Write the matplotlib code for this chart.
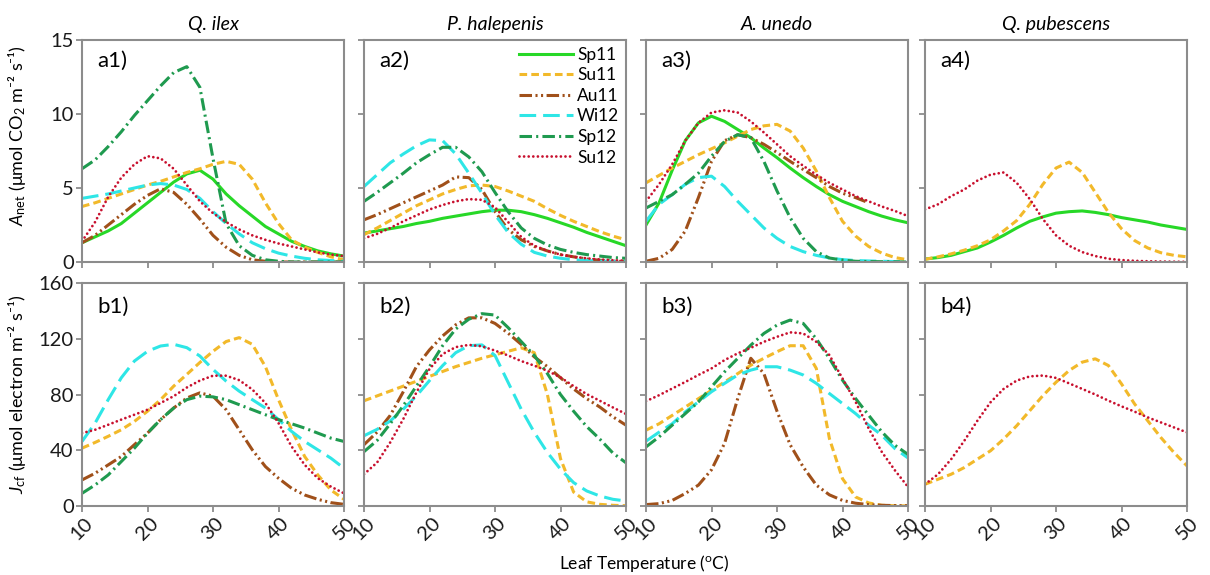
import numpy as np
import matplotlib
matplotlib.use("Agg")
import matplotlib.pyplot as plt

# -----------------------
# Data: modelled response curves vs leaf temperature
# -----------------------
nan = np.nan
temps = [10, 12, 14, 16, 18, 20, 22, 24, 26, 28, 30, 32, 34, 36, 38, 40, 42, 44, 46, 48, 50]

species = ["Q. ilex", "P. halepenis", "A. unedo", "Q. pubescens"]
campaigns = ["Sp11", "Su11", "Au11", "Wi12", "Sp12", "Su12"]

# Net assimilation (umol CO2 m-2 s-1), one dict per species
anet_qi = {
    "Sp11": [1.3, 1.7, 2.1, 2.6, 3.3, 4.0, 4.7, 5.4, 5.95, 6.2, 5.6, 4.6, 3.8, 3.1, 2.4, 1.9, 1.4, 1.05, 0.75, 0.55, 0.4],
    "Su11": [3.75, 4.0, 4.3, 4.6, 4.9, 5.2, 5.45, 5.75, 6.05, 6.3, 6.6, 6.8, 6.6, 5.6, 4.0, 2.6, 1.5, 1.0, 0.65, 0.35, 0.15],
    "Au11": [1.3, 1.8, 2.5, 3.2, 3.9, 4.5, 4.95, 4.7, 3.9, 2.9, 1.8, 1.0, 0.45, 0.15, 0.05, 0, 0, 0, 0, 0, 0],
    "Wi12": [4.3, 4.45, 4.6, 4.8, 5.0, 5.2, 5.3, 5.2, 4.9, 4.3, 3.4, 2.6, 1.9, 1.3, 0.9, 0.6, 0.4, 0.25, 0.15, 0.1, 0.05],
    "Sp12": [6.3, 6.9, 7.8, 8.8, 9.9, 10.9, 11.9, 12.8, 13.2, 11.8, 7.0, 2.6, 1.1, 0.45, 0.15, 0.05, 0, 0, 0, 0, 0],
    "Su12": [1.4, 2.7, 4.4, 5.7, 6.6, 7.15, 7.0, 6.3, 5.2, 4.1, 3.3, 2.7, 2.2, 1.8, 1.5, 1.25, 1.05, 0.85, 0.65, 0.5, 0.4],
}
anet_ph = {
    "Sp11": [1.95, 2.1, 2.25, 2.4, 2.6, 2.75, 2.95, 3.1, 3.25, 3.4, 3.5, 3.5, 3.4, 3.2, 2.95, 2.65, 2.35, 2.0, 1.7, 1.4, 1.1],
    "Su11": [1.85, 2.3, 2.8, 3.3, 3.8, 4.2, 4.6, 4.9, 5.15, 5.2, 5.1, 4.8, 4.45, 4.1, 3.6, 3.15, 2.75, 2.4, 2.05, 1.75, 1.5],
    "Au11": [2.85, 3.2, 3.6, 4.0, 4.4, 4.8, 5.2, 5.75, 5.7, 4.9, 3.4, 2.2, 1.5, 1.05, 0.75, 0.5, 0.35, 0.2, 0.12, 0.06, 0.03],
    "Wi12": [5.1, 5.9, 6.7, 7.3, 7.85, 8.25, 8.2, 7.3, 6.0, 4.65, 3.2, 2.0, 1.2, 0.65, 0.4, 0.25, 0.15, 0.1, 0.06, 0.04, 0.02],
    "Sp12": [4.1, 4.7, 5.35, 6.0, 6.7, 7.25, 7.75, 7.75, 7.1, 6.1, 4.7, 3.4, 2.3, 1.6, 1.15, 0.85, 0.65, 0.5, 0.4, 0.3, 0.25],
    "Su12": [1.6, 1.9, 2.3, 2.75, 3.15, 3.55, 3.85, 4.1, 4.25, 4.2, 3.7, 2.7, 1.7, 1.1, 0.75, 0.5, 0.35, 0.25, 0.17, 0.12, 0.08],
}
anet_au = {
    "Sp11": [2.5, 4.0, 6.2, 8.2, 9.4, 9.85, 9.5, 8.95, 8.4, 7.7, 7.05, 6.35, 5.7, 5.1, 4.55, 4.1, 3.75, 3.4, 3.1, 2.85, 2.65],
    "Su11": [5.35, 5.85, 6.35, 6.8, 7.25, 7.65, 8.05, 8.5, 8.95, 9.2, 9.3, 8.85, 7.7, 6.15, 4.35, 2.75, 1.75, 1.05, 0.6, 0.3, 0.15],
    "Au11": [0.05, 0.25, 0.85, 2.1, 4.35, 6.8, 8.2, 8.6, 8.4, 7.95, 7.4, 6.8, 6.25, 5.7, 5.1, 4.65, 4.35, 4.0, nan, nan, nan],
    "Wi12": [2.75, 3.9, 4.55, 5.25, 5.7, 5.8, 5.1, 4.1, 3.2, 2.3, 1.6, 1.05, 0.7, 0.45, 0.27, 0.16, 0.1, 0.07, 0.05, 0.03, 0.02],
    "Sp12": [3.65, 4.1, 4.55, 5.25, 6.0, 7.15, 8.15, 8.6, 8.4, 6.8, 4.8, 3.0, 1.6, 0.7, 0.27, 0.13, 0.05, 0.03, 0.02, 0.01, 0],
    "Su12": [4.1, 5.25, 6.6, 8.2, 9.4, 10.1, 10.25, 10.1, 9.5, 8.75, 7.95, 7.15, 6.5, 5.9, 5.35, 4.9, 4.45, 4.1, 3.75, 3.45, 3.1],
}
anet_qp = {
    "Sp11": [0.2, 0.3, 0.45, 0.7, 0.95, 1.35, 1.8, 2.3, 2.75, 3.05, 3.3, 3.4, 3.45, 3.35, 3.2, 3.0, 2.85, 2.7, 2.5, 2.35, 2.2],
    "Su11": [0.18, 0.35, 0.55, 0.8, 1.1, 1.5, 2.1, 2.8, 3.9, 5.25, 6.35, 6.75, 6.05, 4.7, 3.35, 2.25, 1.45, 0.95, 0.63, 0.45, 0.35],
    "Su12": [3.55, 3.9, 4.45, 4.9, 5.5, 5.9, 6.05, 5.35, 4.25, 2.9, 1.8, 1.1, 0.67, 0.4, 0.22, 0.13, 0.08, 0.05, 0.03, 0.02, 0.01],
}

# Electron transport rate from chlorophyll fluorescence (umol electron m-2 s-1)
jcf_qi = {
    "Su11": [41.5, 45.6, 50, 54.7, 60.7, 68, 76.3, 86, 94.4, 103, 111, 118, 120.8, 116, 100, 76.3, 54.7, 35.5, 22.3, 11.5, 4.8],
    "Au11": [18.7, 23.5, 29.5, 35.5, 44, 52.3, 62, 70.3, 77.5, 81.2, 78.8, 69.1, 54.7, 40.3, 28.3, 19.9, 12.7, 7.9, 4.8, 2.4, 1.2],
    "Wi12": [46.3, 59.5, 76.3, 92, 104, 111, 114.8, 116, 113.6, 107.6, 98, 89.6, 82.4, 76.3, 70.3, 62, 53.5, 46.3, 40.3, 34.3, 27.1],
    "Sp12": [9.1, 15.1, 22.3, 31.9, 41.5, 52.3, 62, 70.3, 76.3, 78.8, 78.3, 76.3, 72.7, 69.1, 65.5, 62, 59, 55.9, 52.3, 48.7, 46.3],
    "Su12": [52.3, 54.7, 58.3, 62, 65.5, 69.1, 73.9, 78.8, 85, 90, 93.5, 93.5, 90.3, 83.6, 73.9, 59.5, 42.7, 29.5, 19.9, 13.9, 9.1],
}
jcf_ph = {
    "Su11": [75.5, 79, 82.5, 86, 89.5, 93, 96.5, 100, 103, 106, 108.5, 111, 113.5, 110, 80, 34, 10, 3, 1.2, 0.5, 0.2],
    "Au11": [44, 53, 65, 82, 100, 112, 122, 130, 135, 135, 131, 124, 116, 107, 100, 92, 84, 77, 71, 64, 58],
    "Wi12": [50.4, 55, 61, 69.5, 79, 90, 100.7, 110, 115, 115.6, 108, 88.7, 69.5, 52.8, 38.4, 26.4, 16.8, 10.8, 7.2, 4.8, 3.6],
    "Sp12": [39, 47, 59, 72, 86, 100, 115, 127, 134, 138, 137, 128, 118, 108, 95, 80, 68, 57, 48, 38, 31],
    "Su12": [22.8, 31.2, 45.6, 62.4, 81.5, 98.3, 109, 114, 115.6, 114.6, 111.5, 108, 104, 100.7, 97, 92.3, 86, 80.3, 75.5, 70.7, 66],
}
jcf_au = {
    "Su11": [54.4, 59, 65, 71, 77, 83, 89, 95, 101, 106, 110.7, 115, 115, 98.7, 48.4, 19.6, 6.5, 2.2, 0.5, 0.2, 0.1],
    "Au11": [1, 1.7, 4, 9, 15, 26, 45, 77, 106, 95, 68, 44, 28, 15, 8, 4, 2, 1, 0.5, 0.3, 0.2],
    "Wi12": [46.5, 53, 59, 67.5, 74.7, 82, 88, 94, 97.5, 99.9, 99.9, 97.5, 94, 88, 80.7, 73.5, 66.3, 58, 50.8, 41.2, 34.5],
    "Sp12": [42.4, 49.6, 58, 66.3, 74.7, 85.5, 96.3, 105.9, 115.4, 123.8, 129.8, 133.4, 131, 120, 105.9, 90.3, 77.1, 65.1, 53.2, 43.6, 37],
    "Su12": [75.2, 79.5, 84.3, 89, 94, 98.7, 104.7, 109.5, 113.5, 117.8, 121.4, 124.6, 123.8, 117.8, 108.3, 91.5, 74.7, 55.6, 38.8, 25.6, 13.7],
}
jcf_qp = {
    "Su11": [15.6, 19.2, 22.8, 27.6, 33.6, 39.6, 48, 57.6, 68.4, 79.2, 88.8, 97.2, 103.2, 105.6, 100.8, 87.6, 73.2, 61.2, 49.2, 38.4, 28.8],
    "Su12": [15.6, 22.8, 33.6, 46.8, 61.2, 74.4, 84, 90, 93, 93.6, 91.9, 88, 84, 80, 75.6, 71.5, 67.7, 63.6, 60, 56.4, 52.8],
}

anet_panels = [anet_qi, anet_ph, anet_au, anet_qp]
jcf_panels = [jcf_qi, jcf_ph, jcf_au, jcf_qp]

# -----------------------
# Style config
# -----------------------
plt.rcParams["font.family"] = ["Lato", "DejaVu Sans"]
plt.rcParams["mathtext.fontset"] = "custom"
plt.rcParams["mathtext.rm"] = "Lato"
plt.rcParams["mathtext.it"] = "Lato:italic"
plt.rcParams["mathtext.bf"] = "Lato:bold"
plt.rcParams["lines.scale_dashes"] = False

GREY = "#8c8c8c"
LW = 2.2

styles = {
    "Sp11": dict(color="#27d827", linestyle="-"),
    "Su11": dict(color="#f2b92a", linestyle=(0, (5.5, 3.0))),
    "Au11": dict(color="#a0501a", linestyle=(0, (9, 2.5, 1.5, 2.5, 1.5, 2.5))),
    "Wi12": dict(color="#2ee6e6", linestyle=(0, (12, 5))),
    "Sp12": dict(color="#1f9a4f", linestyle=(0, (9, 3, 1.5, 3))),
    "Su12": dict(color="#c8102e", linestyle=(0, (0.01, 3.3)), dash_capstyle="round", lw=2.0),
}

# -----------------------
# Layout (pixel boxes converted to figure fractions)
# -----------------------
W, H = 1210, 575
col_left = [82, 364, 646, 925]
col_w = 262
rows = [(40, 262), (283, 506)]


def style_axes(ax, ylim, yticks, show_ylabels, show_xlabels):
    ax.set_xlim(10, 50)
    ax.set_ylim(*ylim)
    ax.set_xticks([10, 20, 30, 40, 50])
    ax.set_yticks(yticks)
    for s in ax.spines.values():
        s.set_color(GREY)
        s.set_linewidth(1.5)
    ax.tick_params(direction="out", length=4, width=1.3, color=GREY,
                   labelsize=14.5, labelcolor="#1a1a1a", pad=2)
    if not show_ylabels:
        ax.set_yticklabels([])
    if show_xlabels:
        for lab in ax.get_xticklabels():
            lab.set_rotation(45)
            lab.set_ha("center")
    else:
        ax.set_xticklabels([])


fig = plt.figure(figsize=(W / 100, H / 100), dpi=100)

for r, (panels, ylim, yticks, prefix) in enumerate([
        (anet_panels, (0, 15), [0, 5, 10, 15], "a"),
        (jcf_panels, (0, 160), [0, 40, 80, 120, 160], "b")]):
    top, bot = rows[r]
    for c in range(4):
        ax = fig.add_axes([col_left[c] / W, 1 - bot / H, col_w / W, (bot - top) / H])
        data = panels[c]
        for name in campaigns:
            if name not in data:
                continue
            st = dict(lw=LW)
            st.update(styles[name])
            ax.plot(temps, data[name], label=name, **st)
        style_axes(ax, ylim, yticks, c == 0, r == 1)
        ax.text(0.057, 0.905 if r == 0 else 0.895, f"{prefix}{c + 1})",
                transform=ax.transAxes, fontsize=16, va="center", ha="left")
        if r == 0:
            ax.text(0.5, 1.07, species[c], transform=ax.transAxes,
                    fontsize=14, style="italic", ha="center", va="center")
        if c == 0:
            if r == 0:
                ax.set_ylabel(r"$A_{\mathrm{net}}$ (μmol CO$_2$ m⁻² s⁻¹)", fontsize=13)
                ax.yaxis.set_label_coords(-0.205, 0.57)
            else:
                ax.set_ylabel(r"$J_{\mathrm{cf}}$ (μmol electron m⁻² s⁻¹)", fontsize=13)
                ax.yaxis.set_label_coords(-0.205, 0.5)
        if r == 0 and c == 1:
            ax.legend(loc="upper right", frameon=False, fontsize=12.5,
                      handlelength=3.1, handletextpad=0.25, labelspacing=0.26,
                      borderaxespad=0.2, borderpad=0.2)

fig.text(644 / W, 1 - 563 / H, r"Leaf Temperature ($^{\mathrm{o}}$C)",
         ha="center", va="center", fontsize=12.5)

fig.savefig("out.png", dpi=100)
